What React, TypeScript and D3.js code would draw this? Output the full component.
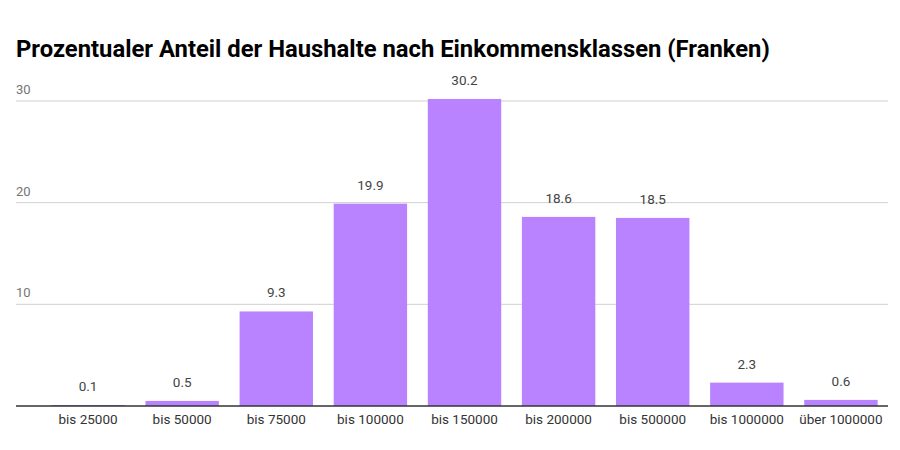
import React from "react";
import * as d3 from "d3";

const categories = ["bis 25000", "bis 50000", "bis 75000", "bis 100000", "bis 150000", "bis 200000", "bis 500000", "bis 1000000", "über 1000000"];
const values = [0.1, 0.5, 9.3, 19.9, 30.2, 18.6, 18.5, 2.3, 0.6];
const yTicks = [10, 20, 30];
const title = "Prozentualer Anteil der Haushalte nach Einkommensklassen (Franken)";

export default function App() {
  const W = 900, H = 450;
  const left = 16, right = 888, top = 101, bottom = 406;
  const x = d3.scaleBand<string>().domain(categories).range([41, 888]).paddingInner(0.22).paddingOuter(0.11);
  const y = d3.scaleLinear().domain([0, 30]).range([bottom, top]);
  const font = "Roboto, 'Noto Sans', sans-serif";
  return (
    <svg width={W} height={H} style={{ position: "absolute", left: 0, top: 0, background: "#fff" }} fontFamily={font}>
      <rect width={W} height={H} fill="#fff" />
      <text x={16} y={57} fontSize={23.8} fontWeight={700} fill="#000">{title}</text>
      {yTicks.map((t) => (
        <g key={t}>
          <line x1={left} x2={right} y1={y(t)} y2={y(t)} stroke="#d0d0d0" strokeWidth={1} />
          <text x={left} y={y(t) - 7} fontSize={13} fill="#757575">{t}</text>
        </g>
      ))}
      {values.map((v, i) => {
        const bx = x(categories[i])!;
        const bw = x.bandwidth();
        return (
          <g key={i}>
            <rect x={bx} y={y(v)} width={bw} height={bottom - y(v)} fill="#b983ff" />
            <text x={bx + bw / 2} y={y(v) - 14} fontSize={13.5} fill="#444" textAnchor="middle">{v}</text>
            <text x={bx + bw / 2} y={424} fontSize={13.5} fill="#333" textAnchor="middle">{categories[i]}</text>
          </g>
        );
      })}
      <line x1={left} x2={right} y1={bottom} y2={bottom} stroke="#333" strokeWidth={1.5} />
    </svg>
  );
}
